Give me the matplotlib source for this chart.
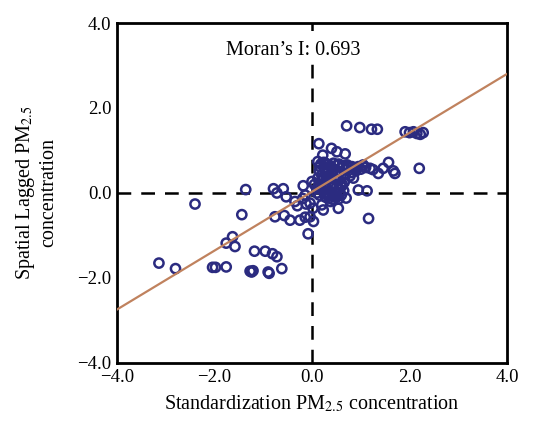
import numpy as np
import matplotlib.pyplot as plt

plt.rcParams['font.family'] = ['Liberation Serif', 'DejaVu Serif']
plt.rcParams['mathtext.fontset'] = 'stix'

# standardized PM2.5 (x) and spatially lagged PM2.5 (y)
x_vals = [
    -3.14, -2.80, -2.40, -2.04, -1.98, -1.76, -1.76, -1.63, -1.58, -1.44, -1.36,
    -1.27, -1.24, -1.21, -1.18, -0.96, -0.90, -0.88, -0.81, -0.72, -0.62,
    -0.79, -0.72, -0.59, -0.53, -0.76, -0.57, -0.45, -0.25, -0.14, -0.04,
    0.03, -0.08, -0.18, -0.19, 0.00, -0.12, 0.02, -0.14, 0.10, -0.04,
    0.14, 0.22, 0.40, 0.51, 0.68,
    0.12, 0.15, 0.18, 0.20, 0.25, 0.28, 0.30, 0.33, 0.38, 0.40, 0.45, 0.50,
    0.52, 0.58, 0.62, 0.66, 0.70, 0.75, 0.80, 0.85, 0.90, 0.95, 1.00, 0.22,
    0.35, 1.05, 1.19, 1.36, 1.57, 1.67, 1.70, 1.46,
    0.30, 0.35, 0.40, 0.42, 0.48, 0.50, 0.55, 0.60, 0.65, 0.70, 0.38, 0.28,
    0.25, 0.10, 0.15, 0.05, 0.95, 1.13, 0.54, 1.16, 0.20, 0.23,
    0.71, 0.98, 1.22, 1.34, 1.91, 2.00, 2.08, 2.15, 2.22, 2.28, 2.20,
    0.12, 0.16, 0.24, 0.32, 0.44, 0.55, 0.64, 0.72, 0.82, 0.92, 1.10, 1.25,
    0.14, 0.20, 0.28, 0.36, 0.46, 0.56, 0.66, 0.78, 0.18, 0.26, 0.34, 0.44,
    0.30, 0.40, 0.50, 0.60, 0.35, 0.45, 0.55, 0.62, 0.85, -0.30, -0.35,
]
y_vals = [
    -1.65, -1.78, -0.26, -1.75, -1.75, -1.74, -1.18, -1.03, -1.26, -0.51, 0.08,
    -1.84, -1.86, -1.83, -1.37, -1.37, -1.86, -1.89, -1.43, -1.50, -1.78,
    0.10, 0.00, 0.10, -0.09, -0.56, -0.53, -0.64, -0.64, -0.57, -0.56,
    -0.67, -0.96, 0.17, -0.13, 0.27, -0.26, -0.36, -0.05, 0.00, -0.24,
    1.16, 0.89, 1.05, 0.97, 0.92,
    0.35, 0.52, 0.68, 0.42, 0.58, 0.70, 0.38, 0.50, 0.64, 0.46, 0.56, 0.42,
    0.66, 0.50, 0.60, 0.44, 0.56, 0.62, 0.48, 0.58, 0.52, 0.62, 0.56, 0.30,
    0.32, 0.66, 0.58, 0.46, 0.72, 0.52, 0.46, 0.58,
    0.10, -0.05, 0.12, -0.15, 0.02, -0.10, 0.10, -0.05, 0.05, -0.12, -0.20, -0.10,
    0.00, 0.10, -0.05, 0.20, 0.07, 0.05, -0.36, -0.60, -0.28, -0.40,
    1.58, 1.54, 1.50, 1.50, 1.44, 1.42, 1.44, 1.40, 1.38, 1.42, 0.58,
    0.74, 0.62, 0.72, 0.66, 0.70, 0.68, 0.64, 0.66, 0.62, 0.58, 0.60, 0.55,
    0.20, 0.30, 0.45, 0.40, 0.35, 0.30, 0.25, 0.40, 0.10, 0.18, 0.24, 0.20,
    0.00, 0.02, -0.02, 0.15, -0.12, -0.08, -0.14, 0.20, 0.35, -0.30, -0.20,
]

morans_i = 0.693
intercept = 0.03
ticks = [-4.0, -2.0, 0.0, 2.0, 4.0]

fig = plt.figure(figsize=(5.45, 4.26), dpi=100)
ax = fig.add_axes([0.2147, 0.148, 0.7156, 0.798])

ax.axhline(0, color='black', lw=1.8, ls=(0, (5.5, 4)), zorder=1)
ax.axvline(0, color='black', lw=1.8, ls=(0, (5.5, 4)), zorder=1)

ax.scatter(x_vals, y_vals, s=44, facecolors='none', edgecolors='#2b2b80',
           linewidths=1.8, zorder=2)

xl = np.array([-4.0, 4.0])
ax.plot(xl, morans_i * xl + intercept, color='#c0825e', lw=1.6, zorder=3)

ax.text(-0.38, 3.36, 'Moran\u2019s I: 0.693', ha='center', va='center',
        fontsize=14.5, bbox=dict(facecolor='white', edgecolor='none', pad=1))

ax.set_xlim(-4, 4)
ax.set_ylim(-4, 4)
ax.set_xticks(ticks)
ax.set_yticks(ticks)
ax.set_xticklabels(['\u22124.0', '\u22122.0', '0.0', '2.0', '4.0'])
ax.set_yticklabels(['\u22124.0', '\u22122.0', '0.0', '2.0', '4.0'])
ax.tick_params(length=0, labelsize=13.5, pad=4)
for s in ax.spines.values():
    s.set_linewidth(2)

ax.set_xlabel('Standardization PM$_{2.5}$ concentration', fontsize=14.5, labelpad=6)
ax.set_ylabel('Spatial Lagged PM$_{2.5}$\nconcentration', fontsize=14.5,
              labelpad=14, linespacing=1.1)

fig.savefig('out.png', dpi=100)
